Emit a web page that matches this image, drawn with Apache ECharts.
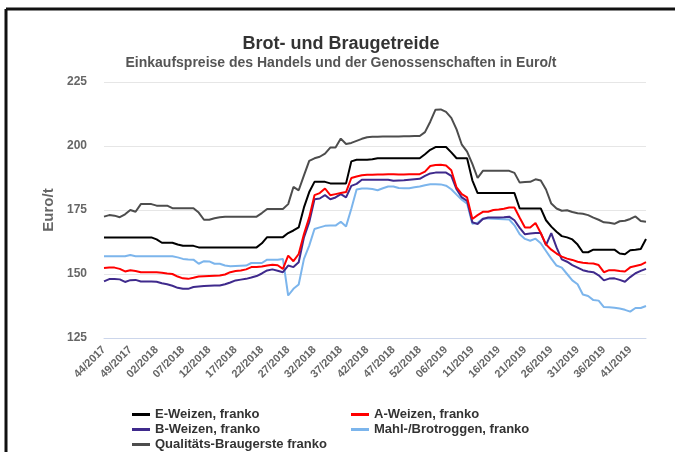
<!DOCTYPE html>
<html>
<head>
<meta charset="utf-8">
<script src="https://cdn.jsdelivr.net/npm/echarts@6/dist/echarts.min.js"></script>
<style>
html,body{margin:0;padding:0;background:#fff;}
#chart{width:675px;height:452px;}
</style>
</head>
<body>
<div id="chart"></div>
<script>
// Week categories (x axis)
var weeks = [
"44/2017","45/2017","46/2017","47/2017","48/2017","49/2017","50/2017","51/2017","52/2017",
"01/2018","02/2018","03/2018","04/2018","05/2018","06/2018","07/2018","08/2018","09/2018","10/2018",
"11/2018","12/2018","13/2018","14/2018","15/2018","16/2018","17/2018","18/2018","19/2018","20/2018",
"21/2018","22/2018","23/2018","24/2018","25/2018","26/2018","27/2018","28/2018","29/2018","30/2018",
"31/2018","32/2018","33/2018","34/2018","35/2018","36/2018","37/2018","38/2018","39/2018","40/2018",
"41/2018","42/2018","43/2018","44/2018","45/2018","46/2018","47/2018","48/2018","49/2018","50/2018",
"51/2018","52/2018",
"02/2019","03/2019","04/2019","05/2019","06/2019","07/2019","08/2019","09/2019","10/2019",
"11/2019","12/2019","13/2019","14/2019","15/2019","16/2019","17/2019","18/2019","19/2019","20/2019",
"21/2019","22/2019","23/2019","24/2019","25/2019","26/2019","27/2019","28/2019","29/2019","30/2019",
"31/2019","32/2019","33/2019","34/2019","35/2019","36/2019","37/2019","38/2019","39/2019","40/2019",
"41/2019","42/2019","43/2019","44/2019"
];

// Series names
var seriesNames = ["E-Weizen, franko","A-Weizen, franko","B-Weizen, franko","Mahl-/Brotroggen, franko","Qualitäts-Braugerste franko"];

// Y axis ticks
var yTicks = [125,150,175,200,225];

var eWeizen = [
164.3,164.3,164.3,164.3,164.3,164.3,164.3,164.3,164.3,164.3,
163.5,162.2,162.2,162.2,161.5,161,161,161,160.4,160.4,
160.4,160.4,160.4,160.4,160.4,160.4,160.4,160.4,160.4,160.4,
162,164.4,164.4,164.4,164.4,166,167,168.2,176,182,
186,186,186,185.4,185.4,185.4,185.4,194,194.6,194.6,
194.6,194.8,195.2,195.2,195.2,195.2,195.2,195.2,195.2,195.2,
195.2,196.8,198.5,199.6,199.6,199.6,197.5,195.2,195.2,195.2,
186.6,181.6,181.6,181.6,181.6,181.6,181.6,181.6,181.6,175.6,
175.6,175.6,175.6,175.6,171,168.5,166.5,164.8,164.3,163.5,
161.5,158.5,158.5,159.5,159.5,159.5,159.5,159.5,158,157.7,
159.3,159.5,159.8,163.7
];

var aWeizen = [
152.3,152.5,152.5,152,151,151.5,151.2,150.7,150.7,150.7,
150.7,150.5,150.2,150,149,148.3,148.1,148.5,149,149.1,
149.2,149.3,149.4,149.8,150.7,151.2,151.4,151.8,152.7,152.7,
152.9,153.3,153.6,153.4,152,157.2,155,157.8,165.6,172.1,
180.8,181.6,183.4,180.8,181.2,181.6,182,187.5,188.1,188.6,
188.8,188.8,188.9,188.9,189,189,188.9,188.9,189,189,
189,190,192.2,192.6,192.7,192.4,190.5,183.8,181.2,179.9,
171.5,173,174.3,174.3,175,175.2,175.5,176,176,172,
168.2,168.2,169.9,166,161.5,159.5,158,156.8,156,155.5,
154.8,154.4,154.2,154.1,153.5,150.7,151.5,151.5,151.2,151,
152.6,153.1,153.6,154.6
];

var bWeizen = [
147.1,148,148,147.9,146.9,147.6,147.7,147.1,147.1,147.1,
147,146.4,146,145.4,144.6,144.2,144.2,144.9,145.1,145.3,
145.4,145.5,145.5,146,146.7,147.5,147.8,148.1,148.6,149.2,
150.2,151.4,151.8,151.3,150.7,153.3,152.7,154.6,164.3,170.2,
179.2,179.5,180.8,179.2,179.9,181.2,179.9,184.4,185.2,186.8,
186.8,186.8,186.8,186.8,186.8,186.4,186.5,186.6,186.8,187,
187.2,188.3,189.3,189.6,189.6,189.6,188.3,183.1,179.9,178.6,
170.2,169.5,171.5,172.1,172.1,172.1,172.2,172.4,171,168,
165.5,165.8,166,166,161.3,166,160.4,155.7,154.8,153.5,
152.5,151.5,151,150.7,149.5,147.5,148.2,148.3,147.7,147,
148.8,150.3,151.2,152
];

var roggen = [
156.9,156.9,156.9,156.9,156.9,157.4,156.9,156.9,156.9,156.9,
156.9,156.9,156.9,156.9,156.5,155.9,155.7,155.6,154,155,
154.9,154,154,153.3,153,153.1,153.2,153.3,154.3,154.3,
154.3,155.6,155.6,155.6,155.9,141.6,144.2,145.9,155.9,161.1,
167.6,168.2,168.8,168.9,168.9,170.4,168.6,175.5,183,183.4,
183.4,183.2,182.7,183.5,184.2,184.2,183.6,183.5,183.5,183.9,
184.2,184.7,185.1,185.1,185,184.5,183.1,181,179,177.5,
169.6,170,171.7,171.7,171.6,171.5,171.4,171.3,169,165.5,
163.7,163,163.8,162,159,156,153.3,152.5,150,147.5,
146,142,141.4,139.8,139.6,137.1,137,136.8,136.5,136,
135.3,136.7,136.7,137.5
];

var braugerste = [
172.4,173,172.8,172.2,173.3,175,174.3,177.3,177.3,177.3,
176.7,176.7,176.7,175.7,175.7,175.7,175.7,175.7,174,171.2,
171.2,171.8,172.2,172.4,172.4,172.4,172.4,172.4,172.4,172.4,
173.8,175.4,175.4,175.4,175.4,177.3,184,182.7,188.5,194.2,
195.2,195.8,197,199.4,199.4,202.9,200.8,201.2,202,202.8,
203.4,203.6,203.6,203.7,203.7,203.7,203.7,203.8,203.8,203.9,
203.9,205.4,209.5,214.2,214.3,213.3,211,206.5,200.5,197.8,
193,187.5,190.3,190.3,190.3,190.3,190.3,190.3,189.5,185.7,
185.9,186,187,186.5,183,177.5,175.6,174.7,174.9,174.2,
173.7,173.5,173,172,171.2,170.2,170,169.6,170.6,170.8,
171.5,172.5,170.7,170.4
];

var seriesData = [eWeizen, aWeizen, bWeizen, roggen, braugerste];
var colors = ["#000000","#ff0000","#3f2a8c","#7cb5ec","#4d4d4d"];

var FONT = "'Liberation Sans', Arial, sans-serif";

var chart = echarts.init(document.getElementById('chart'), null, {renderer:'canvas'});

var legendPos = [
  {left:132, top:408},
  {left:351, top:408},
  {left:132, top:423},
  {left:351, top:423},
  {left:132, top:438}
];

var option = {
  animation:false,
  backgroundColor:'#ffffff',
  color: colors,
  title: {
    text: 'Brot- und Braugetreide',
    subtext: 'Einkaufspreise des Handels und der Genossenschaften in Euro/t',
    left: 341,
    textAlign: 'center',
    top: 35,
    itemGap: 3,
    padding: 0,
    textStyle: {fontFamily: FONT, fontWeight:'bold', fontSize:18, color:'#333333'},
    subtextStyle: {fontFamily: FONT, fontWeight:'bold', fontSize:14, color:'#555555'}
  },
  legend: seriesNames.map(function(n, i){
    return {
      data:[n], left:legendPos[i].left, top:legendPos[i].top,
      icon:'rect', itemWidth:18, itemHeight:3, padding:0,
      textStyle:{fontFamily:FONT, fontWeight:'bold', fontSize:13, color:'#333333'},
      selectedMode:false
    };
  }),
  grid: {left:104, right:29, top:82, bottom:114, containLabel:false},
  xAxis: {
    type:'category',
    data: weeks,
    boundaryGap:false,
    axisLine:{show:true, lineStyle:{color:'#ccd6eb', width:1}},
    axisTick:{show:false},
    axisLabel:{interval:4, rotate:45, margin:10, fontFamily:FONT, fontWeight:'bold', fontSize:11, color:'#666666'},
    splitLine:{show:false}
  },
  yAxis: {
    type:'value',
    min:yTicks[0], max:yTicks[yTicks.length-1], interval:25,
    name:'Euro/t', nameLocation:'middle', nameGap:48,
    nameTextStyle:{fontFamily:FONT, fontWeight:'bold', fontSize:15, color:'#666666'},
    axisLine:{show:false}, axisTick:{show:false},
    axisLabel:{margin:17, fontFamily:FONT, fontWeight:'bold', fontSize:12, color:'#666666'},
    splitLine:{show:true, lineStyle:{color:'#e6e6e6', width:1}}
  },
  graphic: [
    {type:'line', shape:{x1:6, y1:9, x2:675, y2:9}, style:{stroke:'#111111', lineWidth:3}, z:100},
    {type:'line', shape:{x1:6, y1:9, x2:6, y2:452}, style:{stroke:'#111111', lineWidth:3}, z:100}
  ],
  series: seriesNames.map(function(n, i){
    return {
      name:n, type:'line', data:seriesData[i], symbol:'none', showSymbol:false,
      lineStyle:{width:2, color:colors[i]}, itemStyle:{color:colors[i]},
      z: 10 - i
    };
  })
};
chart.setOption(option);
</script>
</body>
</html>
